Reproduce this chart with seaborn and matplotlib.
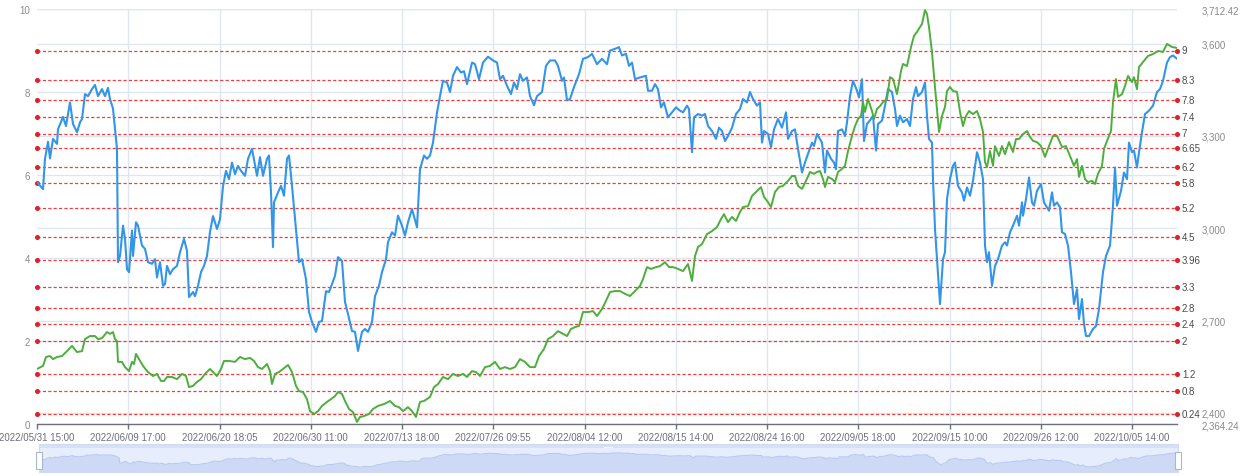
import matplotlib.pyplot as plt
from matplotlib.patches import Rectangle
import numpy as np
import pandas as pd
import seaborn as sns

sns.set_theme(style="white")
plt.rcParams['font.family'] = ['Liberation Sans', 'DejaVu Sans']

# ---------------- data ----------------
tick_labels = ['2022/05/31 15:00', '2022/06/09 17:00', '2022/06/20 18:05', '2022/06/30 11:00',
               '2022/07/13 18:00', '2022/07/26 09:55', '2022/08/04 12:00', '2022/08/15 14:00',
               '2022/08/24 16:00', '2022/09/05 18:00', '2022/09/15 10:00', '2022/09/26 12:00',
               '2022/10/05 14:00']
n_steps = 1140          # time steps along the category axis
label_every = 91.25     # one label every that many steps

# blue series (left axis)
blue_t = [0, 6, 8, 11, 13, 16, 20, 21, 26, 29, 33, 36, 40, 43, 45, 48, 51, 55, 58, 61, 65, 68, 71, 73,
          76, 79, 80, 81, 83, 86, 88, 90, 92, 95, 96, 99, 101, 105, 108, 111, 115, 118, 120, 123,
          126, 128, 130, 133, 136, 140, 143, 147, 150, 152, 156, 158, 161, 164, 167, 170, 173, 176,
          180, 183, 186, 189, 192, 195, 198, 201, 204, 208, 211, 215, 220, 223, 226, 230, 232, 234,
          236, 237, 241, 244, 247, 250, 252, 255, 259, 262, 265, 269, 272, 275, 279, 282, 285, 289,
          292, 295, 298, 301, 305, 308, 311, 315, 318, 321, 325, 328, 331, 335, 338, 342, 345, 349,
          351, 355, 358, 361, 365, 368, 371, 375, 380, 383, 387, 390, 393, 396, 400, 403, 406, 410,
          413, 416, 420, 424, 427, 430, 435, 438, 442, 446, 451, 456, 460, 463, 466, 470, 474, 477,
          480, 483, 486, 490, 493, 497, 500, 505, 509, 513, 518, 521, 525, 527, 530, 533, 537, 542,
          546, 551, 555, 560, 565, 570, 573, 578, 582, 585, 589, 592, 595, 598, 603, 609, 611, 615,
          618, 621, 624, 627, 631, 635, 639, 643, 646, 650, 652, 655, 657, 661, 665, 668, 671, 675,
          679, 682, 685, 688, 691, 695, 699, 703, 706, 710, 713, 716, 720, 723, 725, 727, 731, 734,
          737, 741, 745, 749, 751, 755, 758, 761, 765, 768, 771, 775, 777, 780, 785, 788, 790, 794,
          797, 799, 801, 805, 808, 810, 813, 816, 820, 822, 825, 827, 830, 834, 836, 839, 841, 845,
          848, 851, 855, 858, 860, 863, 866, 870, 873, 876, 879, 881, 885, 888, 890, 892, 895, 896,
          898, 900, 903, 906, 908, 910, 913, 916, 918, 921, 925, 927, 930, 933, 936, 940, 943, 946,
          948, 950, 952, 955, 958, 961, 965, 968, 970, 973, 976, 980, 982, 985, 986, 989, 992, 995,
          997, 1000, 1004, 1007, 1010, 1012, 1015, 1017, 1020, 1023, 1025, 1028, 1031, 1034, 1037,
          1040, 1042, 1045, 1047, 1049, 1052, 1056, 1059, 1062, 1066, 1069, 1073, 1076, 1078, 1080,
          1084, 1087, 1090, 1092, 1095, 1097, 1100, 1102, 1105, 1108, 1112, 1116, 1120, 1123, 1126,
          1130, 1133, 1136, 1140]
blue_v = [5.83, 5.66, 6.39, 6.8, 6.4, 6.87, 6.75, 7.1, 7.4, 7.18, 7.75, 7.23, 7.03, 7.27, 7.35, 7.95,
          7.9, 8.07, 8.17, 7.9, 8.07, 7.9, 8.1, 7.83, 7.6, 6.87, 6.63, 3.9, 4.05, 4.78, 4.46, 3.73,
          3.66, 4.66, 4.05, 4.86, 4.78, 4.3, 4.22, 3.9, 3.86, 3.97, 3.53, 3.9, 3.33, 3.37, 3.81, 3.61,
          3.73, 3.81, 4.14, 4.46, 4.17, 3.06, 3.18, 3.08, 3.33, 3.66, 3.81, 4.05, 4.63, 5.01, 4.7,
          4.94, 5.73, 6.1, 5.9, 6.3, 6.02, 6.22, 6.1, 5.98, 6.39, 6.63, 5.98, 6.43, 5.98, 6.39, 6.47,
          5.58, 4.26, 5.34, 5.58, 5.74, 5.5, 6.39, 6.47, 5.74, 4.7, 3.9, 3.97, 3.49, 2.7, 2.46, 2.22,
          2.46, 2.48, 3.2, 3.18, 3.37, 3.57, 4.02, 3.93, 2.94, 2.65, 2.24, 2.22, 1.76, 2.22, 2.29,
          2.22, 2.46, 3.08, 3.33, 3.66, 3.97, 4.38, 4.62, 4.54, 5.02, 4.78, 4.54, 4.86, 5.18, 4.74,
          6.14, 6.47, 6.39, 6.47, 6.78, 7.5, 7.9, 8.27, 8.23, 8.0, 8.39, 8.6, 8.47, 8.5, 8.19, 8.71,
          8.67, 8.31, 8.71, 8.85, 8.76, 8.71, 8.31, 8.39, 8.15, 7.95, 8.23, 8.07, 8.43, 8.27, 8.35,
          7.9, 7.68, 7.9, 8.0, 8.63, 8.76, 8.76, 8.63, 8.27, 8.35, 7.8, 7.83, 8.12, 8.43, 8.8, 8.84,
          8.92, 8.67, 8.8, 8.67, 9.0, 9.04, 9.08, 8.88, 8.92, 8.63, 8.71, 8.31, 8.35, 8.39, 8.03,
          8.03, 8.19, 8.07, 7.63, 7.75, 7.39, 7.51, 7.63, 7.55, 7.51, 7.67, 7.59, 6.55, 7.39, 7.47,
          7.43, 7.47, 7.18, 7.06, 6.87, 7.14, 7.06, 6.82, 6.94, 7.14, 7.47, 7.59, 7.83, 7.75, 8.0,
          7.83, 7.67, 7.75, 6.78, 7.06, 6.99, 6.67, 7.1, 7.35, 7.14, 7.51, 6.87, 7.06, 7.1, 6.63,
          6.06, 6.3, 6.51, 6.78, 6.7, 6.99, 6.78, 6.06, 6.59, 6.39, 6.3, 6.14, 7.06, 7.1, 6.94, 7.27,
          7.9, 8.27, 8.03, 7.87, 8.31, 6.82, 7.23, 7.35, 7.43, 6.59, 7.23, 7.31, 7.67, 8.07, 8.0,
          7.59, 7.18, 7.43, 7.27, 7.35, 7.18, 7.83, 8.12, 7.9, 8.0, 8.23, 7.43, 6.87, 6.78, 5.9, 4.7,
          3.97, 2.89, 3.97, 4.14, 5.42, 5.9, 6.22, 6.3, 5.74, 5.58, 5.38, 5.7, 5.5, 5.86, 6.55, 6.3,
          5.9, 4.3, 3.9, 4.14, 3.33, 3.81, 3.97, 4.3, 4.38, 4.3, 4.62, 4.78, 5.02, 4.78, 5.34, 5.02,
          5.42, 5.94, 5.34, 5.26, 5.62, 5.78, 5.34, 5.22, 5.14, 5.58, 5.26, 5.34, 5.22, 4.62, 4.58,
          4.3, 3.66, 2.89, 3.25, 2.53, 3.01, 2.41, 2.12, 2.12, 2.29, 2.36, 2.77, 3.66, 4.05, 4.3,
          5.26, 6.18, 5.26, 5.62, 6.06, 5.9, 6.78, 6.55, 6.59, 6.18, 6.55, 7.03, 7.47, 7.55, 7.67,
          8.0, 8.07, 8.27, 8.71, 8.84, 8.88, 8.8]

# green series (right axis, price)
green_t = [0, 6, 9, 13, 16, 20, 25, 30, 35, 40, 45, 48, 53, 58, 61, 65, 70, 73, 76, 78, 80, 81, 85,
           88, 92, 95, 97, 99, 102, 106, 111, 116, 120, 124, 127, 130, 135, 140, 145, 149, 152, 156,
           160, 164, 168, 173, 176, 180, 184, 187, 192, 198, 203, 208, 213, 217, 221, 225, 230, 233,
           235, 238, 242, 246, 251, 255, 259, 262, 266, 270, 273, 277, 281, 285, 290, 294, 298, 301,
           305, 308, 312, 316, 320, 323, 327, 332, 336, 341, 347, 353, 358, 362, 366, 371, 375, 379,
           383, 387, 393, 397, 401, 406, 411, 416, 421, 426, 430, 435, 439, 443, 448, 453, 458, 463,
           468, 473, 478, 483, 488, 493, 498, 502, 507, 511, 516, 521, 526, 530, 534, 538, 542, 546,
           551, 556, 560, 565, 569, 573, 578, 583, 588, 593, 598, 603, 606, 610, 614, 619, 623, 628,
           632, 636, 641, 646, 651, 655, 658, 661, 665, 670, 675, 680, 684, 687, 691, 695, 699, 703,
           706, 711, 715, 720, 724, 727, 731, 734, 738, 742, 746, 751, 755, 758, 761, 765, 769, 773,
           777, 780, 783, 786, 788, 791, 795, 798, 801, 805, 808, 811, 815, 818, 821, 824, 826, 828,
           831, 835, 837, 840, 843, 846, 850, 853, 856, 860, 864, 866, 870, 874, 877, 880, 885, 888,
           890, 892, 895, 897, 900, 902, 905, 908, 910, 913, 916, 920, 923, 926, 929, 932, 936, 940,
           943, 946, 948, 950, 953, 956, 958, 962, 965, 968, 972, 976, 979, 982, 986, 990, 993, 996,
           1000, 1004, 1008, 1012, 1016, 1020, 1025, 1029, 1033, 1037, 1040, 1042, 1045, 1048, 1051,
           1055, 1058, 1061, 1065, 1067, 1070, 1074, 1076, 1079, 1081, 1085, 1088, 1091, 1095, 1097,
           1100, 1102, 1106, 1111, 1116, 1121, 1126, 1130, 1135, 1140]
green_v = [2543, 2553, 2582, 2585, 2575, 2582, 2585, 2601, 2618, 2598, 2601, 2640, 2650, 2650, 2640,
           2643, 2663, 2657, 2663, 2640, 2634, 2566, 2566, 2549, 2536, 2566, 2559, 2592, 2575, 2553,
           2533, 2520, 2527, 2504, 2504, 2517, 2517, 2510, 2527, 2520, 2484, 2488, 2501, 2510, 2527,
           2543, 2533, 2520, 2543, 2569, 2569, 2566, 2582, 2575, 2579, 2569, 2549, 2543, 2559, 2536,
           2494, 2527, 2533, 2543, 2556, 2533, 2488, 2471, 2468, 2445, 2406, 2397, 2406, 2423, 2436,
           2445, 2455, 2468, 2462, 2439, 2413, 2403, 2371, 2387, 2390, 2397, 2413, 2423, 2429, 2439,
           2423, 2419, 2406, 2419, 2406, 2387, 2436, 2439, 2452, 2484, 2494, 2517, 2510, 2527, 2520,
           2527, 2517, 2536, 2533, 2520, 2549, 2553, 2566, 2543, 2549, 2543, 2549, 2575, 2566, 2549,
           2549, 2585, 2608, 2640, 2650, 2666, 2657, 2650, 2673, 2679, 2683, 2728, 2728, 2731, 2715,
           2738, 2764, 2793, 2796, 2796, 2787, 2780, 2796, 2813, 2835, 2874, 2868, 2874, 2877, 2890,
           2874, 2874, 2868, 2861, 2884, 2829, 2910, 2939, 2949, 2981, 2991, 3004, 3030, 3046, 3020,
           3037, 3024, 3053, 3069, 3072, 3105, 3121, 3134, 3102, 3085, 3069, 3118, 3134, 3138, 3154,
           3170, 3170, 3138, 3128, 3154, 3183, 3177, 3183, 3186, 3160, 3134, 3167, 3160, 3150, 3183,
           3193, 3203, 3251, 3300, 3332, 3355, 3365, 3410, 3378, 3420, 3381, 3355, 3388, 3397, 3410,
           3420, 3491, 3485, 3436, 3511, 3534, 3527, 3589, 3625, 3638, 3664, 3709, 3696, 3654, 3572,
           3495, 3388, 3313, 3365, 3394, 3446, 3459, 3446, 3443, 3378, 3332, 3365, 3381, 3371, 3381,
           3355, 3313, 3215, 3199, 3251, 3203, 3267, 3235, 3267, 3241, 3280, 3248, 3290, 3290, 3306,
           3316, 3297, 3284, 3280, 3267, 3232, 3267, 3300, 3300, 3264, 3267, 3235, 3203, 3225, 3167,
           3203, 3160, 3150, 3154, 3144, 3177, 3203, 3258, 3284, 3316, 3410, 3485, 3427, 3436, 3462,
           3495, 3475, 3491, 3452, 3524, 3540, 3560, 3566, 3576, 3573, 3599, 3589, 3586]

# mark lines on the left axis
levels = [9, 8.3, 7.8, 7.4, 7, 6.65, 6.2, 5.8, 5.2, 4.5, 3.96, 3.3, 2.8, 2.4, 2, 1.2, 0.8, 0.24]
left_ticks = [0, 2, 4, 6, 8, 10]
price_min, price_max = 2364.24, 3712.42
price_ticks = [2400, 2700, 3000, 3300, 3600]

blue_df = pd.DataFrame({'t': blue_t, 'v': blue_v})
green_df = pd.DataFrame({'t': green_t, 'p': green_v})

# ---------------- figure ----------------
W, H = 1247, 477
fig = plt.figure(figsize=(W / 100, H / 100), dpi=100)
ax = fig.add_axes([37 / W, 52 / H, 1140 / W, 415 / H])
ax2 = ax.twinx()

axis_gray = '#6e7079'
grid_gray = '#e0e6f1'
blue = '#3295e8'
green = '#4cae3c'

ax.set_xlim(0, n_steps)
ax.set_ylim(0, 10)
ax2.set_ylim(price_min, price_max)

# grid lines (both axes drawn on the left one so they sit behind the lines)
for y in left_ticks:
    ax.axhline(y, color=grid_gray, lw=1, zorder=0)
for p in price_ticks + [price_max]:
    ax.axhline((p - price_min) / (price_max - price_min) * 10, color=grid_gray, lw=1, zorder=0)
xticks = np.arange(len(tick_labels)) * label_every
for x in xticks[1:]:
    ax.axvline(x, color=grid_gray, lw=1, zorder=0)

# red mark lines
for lv in levels:
    ax.axhline(lv, color='#f03c3c', lw=0.9, ls=(0, (2.5, 1.8)), zorder=1)
    ax.plot([0, n_steps], [lv, lv], 'o', ms=2.6, color='#e0202a', clip_on=False, zorder=3)
    ax.annotate(f'{lv:g}', xy=(1, lv), xycoords=('axes fraction', 'data'),
                xytext=(3.5, 0), textcoords='offset points', va='center', ha='left',
                fontsize=7, color='#4a4a4a', annotation_clip=False)

sns.lineplot(data=blue_df, x='t', y='v', ax=ax, color=blue, lw=1.5, estimator=None, zorder=4)
sns.lineplot(data=green_df, x='t', y='p', ax=ax2, color=green, lw=1.4, estimator=None, zorder=4)

# axes styling
for a in (ax, ax2):
    for s in a.spines.values():
        s.set_visible(False)
    a.set_xlabel('')
    a.set_ylabel('')
ax.spines['bottom'].set_visible(True)
ax.spines['bottom'].set_color(axis_gray)
ax.spines['bottom'].set_linewidth(1)

ax.set_xticks(xticks)
ax.set_xticklabels(tick_labels)
ax.tick_params(axis='x', length=3.5, width=1, color=axis_gray, pad=2, labelsize=7, labelcolor=axis_gray,
               bottom=True)
ax.set_yticks(left_ticks)
ax.set_yticklabels([str(v) for v in left_ticks])
ax.tick_params(axis='y', length=0, pad=5, labelsize=7, labelcolor='#8a8a8a', left=True)

ax2.set_yticks([price_min] + price_ticks + [price_max])
ax2.set_yticklabels([f'{price_min:,.2f}'] + [f'{p:,}' for p in price_ticks] + [f'{price_max:,.2f}'])
ax2.tick_params(axis='y', length=0, pad=18, labelsize=7, labelcolor='#8a8a8a')

# ---------------- data zoom slider ----------------
axs = fig.add_axes([39 / W, 4 / H, 1139 / W, 28 / H])
axs.set_xlim(0, n_steps)
axs.set_ylim(-0.5, 13.5)
axs.set_facecolor('#e6edfc')
axs.axhspan(11.6, 13.5, color='#d6e1f8', lw=0)
axs.fill_between(blue_t, blue_v, -0.5, color='#cdd9f5', lw=0)
axs.plot(blue_t, blue_v, color='#b9c9ef', lw=0.8)
for s in axs.spines.values():
    s.set_color('#d2dbee')
    s.set_linewidth(0.8)
axs.set_xticks([])
axs.set_yticks([])
for hx in (0.0, 1.0):
    axs.add_patch(Rectangle((hx - 0.0025, 0.12), 0.005, 0.6, transform=axs.transAxes,
                            facecolor='white', edgecolor='#a7b7cc', lw=0.8, clip_on=False, zorder=5))
axs.add_patch(Rectangle((0.5 - 0.004, 0.86), 0.008, 0.05, transform=axs.transAxes,
                        facecolor='#f4f7fd', edgecolor='none', zorder=5))

fig.savefig('out.png', dpi=100, facecolor='white')
